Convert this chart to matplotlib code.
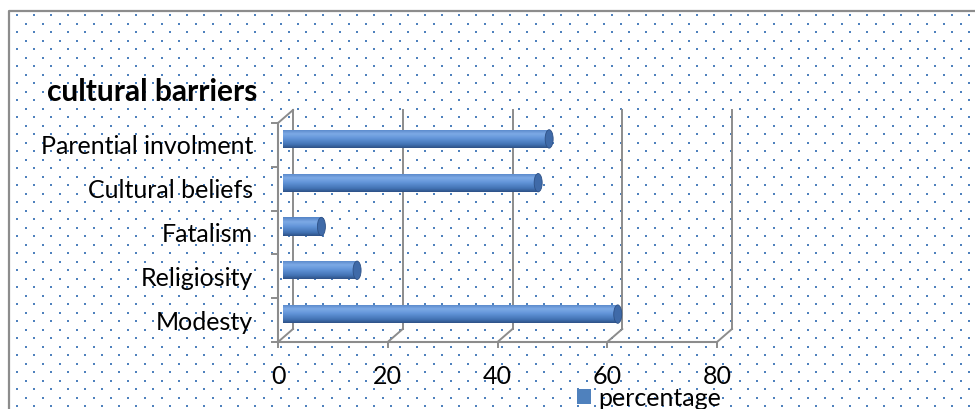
import numpy as np
import matplotlib
matplotlib.use('Agg')
import matplotlib.pyplot as plt
from matplotlib.colors import LinearSegmentedColormap
from matplotlib.patches import Ellipse
from matplotlib.ticker import NullFormatter
from matplotlib.transforms import ScaledTranslation

# data (bottom to top, as drawn)
categories = ['Modesty', 'Religiosity', 'Fatalism', 'Cultural beliefs', 'Parential involment']
percentage = [61, 13.5, 7, 46.5, 48.5]
x_ticks = [0, 20, 40, 60, 80]
title = 'cultural barriers'
series_name = 'percentage'

W, H = 975, 409
GRAY = '#8C8C8C'
BLUE = '#4F81BD'
FONT = 'Lato'
FS = 18
plt.rcParams['font.family'] = [FONT, 'DejaVu Sans']

fig = plt.figure(figsize=(W / 100, H / 100), dpi=100)

# background: dotted pattern + frame, in pixel coords
bg = fig.add_axes([0, 0, 1, 1], zorder=0)
bg.set_xlim(0, W); bg.set_ylim(H, 0); bg.axis('off')
dx_all, dy_all = [], []
for i, yy in enumerate(np.arange(15, H, 8.5)):
    xs = np.arange(0 if i % 2 == 0 else 8.5, W, 17)
    xs = xs[xs > 10]
    dx_all.extend(xs); dy_all.extend([yy] * len(xs))
bg.scatter(dx_all, dy_all, s=3.2, marker='s', color=BLUE, lw=0)
bg.plot([9, 9, W], [H, 11, 11], color=GRAY, lw=1.6, solid_capstyle='butt')

# main axes = front plane of the 3d box
ax = fig.add_axes([278 / W, (H - 342) / H, 439 / W, 219 / H], zorder=1)
ax.patch.set_alpha(0)
xmin, xmax = x_ticks[0], x_ticks[-1]
n = len(categories)
ylo, yhi = -0.5, n - 0.5
px_x = 439 / (xmax - xmin)   # pixels per x unit
px_y = 219 / n               # pixels per category
DX, DY = 15 / px_x, 13 / px_y  # depth of box in data units

# back wall gridlines + floor diagonals
for xt in x_ticks:
    ax.plot([xt, xt + DX], [ylo, ylo + DY], color=GRAY, lw=1.4, clip_on=False, zorder=2)
    ax.plot([xt + DX, xt + DX], [ylo + DY, yhi + DY], color=GRAY, lw=1.4, clip_on=False, zorder=2)
ax.plot([0, DX], [yhi, yhi + DY], color=GRAY, lw=1.4, clip_on=False, zorder=2)

# cylinder bars, set half way into the box
trans = ax.transData + ScaledTranslation(5 / 100, 6 / 100, fig.dpi_scale_trans)
ypos = np.arange(n)
bars = ax.barh(ypos, percentage, height=0.42, color=BLUE, label=series_name,
               transform=trans, zorder=3)
cmap = LinearSegmentedColormap.from_list('cyl', [
    (0.0, '#5484C6'), (0.25, '#7DAAE6'), (0.5, '#6194D8'),
    (0.82, '#4272B3'), (1.0, '#2E5186')])
grad = np.linspace(0, 1, 64).reshape(-1, 1)
for b in bars:
    x0, y0, w, h = b.get_x(), b.get_y(), b.get_width(), b.get_height()
    im = ax.imshow(grad, cmap=cmap, extent=(x0, x0 + w, y0, y0 + h), aspect='auto',
                   origin='upper', transform=trans, zorder=4, interpolation='bilinear')
    im.set_clip_path(b)
    ax.add_patch(Ellipse((x0 + w, y0 + h / 2), width=8 / px_x, height=h, transform=trans,
                         facecolor='#3F6AA8', edgecolor='#2E5186', lw=0.6, zorder=5))

ax.set_xlim(xmin, xmax)
ax.set_ylim(ylo, yhi)

for s in ['top', 'right']:
    ax.spines[s].set_visible(False)
for s in ['left', 'bottom']:
    ax.spines[s].set_color(GRAY)
    ax.spines[s].set_linewidth(1.5)

ax.set_xticks(x_ticks)
ax.set_xticklabels([str(t) for t in x_ticks])
ax.tick_params(axis='x', length=4.3, width=1.4, color=GRAY, pad=12, labelsize=FS)
ax.set_yticks(np.arange(ylo, yhi + 0.01, 1))
ax.yaxis.set_major_formatter(NullFormatter())
ax.set_yticks(ypos, minor=True)
ax.set_yticklabels(categories, minor=True)
ax.tick_params(axis='y', which='major', length=5, width=1.4, color=GRAY)
ax.tick_params(axis='y', which='minor', length=0, pad=18, labelsize=FS)

ax.legend(handles=[bars], labels=[series_name], loc='center left',
          bbox_to_anchor=(577 / W, (H - 398) / H), bbox_transform=fig.transFigure,
          frameon=False, borderpad=0, borderaxespad=0, handlelength=0.56,
          handleheight=0.56, handletextpad=0.28, prop={'family': FONT, 'size': FS})

fig.text(47 / W, (H - 101) / H, title, fontsize=21.5, fontweight='bold', va='baseline')

fig.savefig('out.png', dpi=100)
